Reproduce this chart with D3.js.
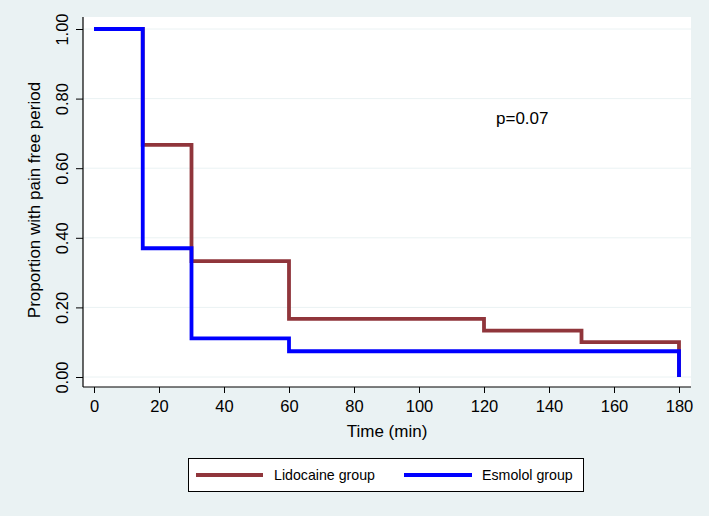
<!DOCTYPE html>
<html>
<head>
<meta charset="utf-8">
<script src="https://cdn.jsdelivr.net/npm/d3@7"></script>
<style>
  html, body { margin: 0; padding: 0; background: #eaf2f3; }
  svg { display: block; font-family: "Liberation Sans", Arial, Helvetica, sans-serif; }
</style>
</head>
<body>
<svg id="chart" width="709" height="516"></svg>
<script>
// ---- data ----
const lidoTimes = [0, 15, 30, 60, 120, 150, 180, 180];
const lidoSurv  = [1.00, 0.667, 0.333, 0.167, 0.133, 0.100, 0.100, 0.0];
const esmoTimes = [0, 15, 30, 60, 180, 180];
const esmoSurv  = [1.00, 0.370, 0.111, 0.074, 0.074, 0.0];
const xTicks = [0, 20, 40, 60, 80, 100, 120, 140, 160, 180];
const yTicks = [0, 0.2, 0.4, 0.6, 0.8, 1.0];
const seriesNames = ["Lidocaine group", "Esmolol group"];
const seriesColors = ["#90353b", "#0000ff"];
const pText = "p=0.07";

// ---- layout ----
const svg = d3.select("#chart");
const W = 709, H = 516;
svg.append("rect").attr("width", W).attr("height", H).attr("fill", "#eaf2f3");

const plot = { left: 83, right: 691, top: 17, bottom: 387 };
svg.append("rect")
  .attr("x", plot.left).attr("y", plot.top)
  .attr("width", plot.right - plot.left).attr("height", plot.bottom - plot.top)
  .attr("fill", "#ffffff");

const x = d3.scaleLinear().domain([0, 180]).range([94, 679]);
const y = d3.scaleLinear().domain([0, 1]).range([377, 29]);

// gridlines
svg.append("g").selectAll("line").data(yTicks).join("line")
  .attr("x1", plot.left).attr("x2", plot.right)
  .attr("y1", d => y(d)).attr("y2", d => y(d))
  .attr("stroke", "#eaf2f3").attr("stroke-width", 1);

// axes
const yAxis = d3.axisLeft(y).tickValues(yTicks).tickFormat(d3.format(".2f")).tickSize(7).tickSizeOuter(0);
const gy = svg.append("g").attr("transform", `translate(${plot.left},0)`).call(yAxis);
gy.select(".domain").remove();
gy.selectAll(".tick line").attr("stroke", "#000");
gy.selectAll(".tick text")
  .attr("font-size", 16.5).attr("fill", "#000")
  .attr("transform", "rotate(-90)")
  .attr("text-anchor", "middle")
  .attr("x", function() { return -d3.select(this.parentNode).datum() ? 0 : 0; })
  .attr("dy", null);
gy.selectAll(".tick").each(function(d) {
  const t = d3.select(this).select("text");
  t.attr("x", 0).attr("y", -15).attr("dy", "0");
});
svg.append("line").attr("x1", plot.left).attr("x2", plot.left)
  .attr("y1", plot.top).attr("y2", plot.bottom).attr("stroke", "#000").attr("stroke-width", 1.2);

const xAxis = d3.axisBottom(x).tickValues(xTicks).tickFormat(d3.format("d")).tickSize(6).tickSizeOuter(0);
const gx = svg.append("g").attr("transform", `translate(0,${plot.bottom})`).call(xAxis);
gx.select(".domain").remove();
gx.selectAll(".tick line").attr("stroke", "#000");
gx.selectAll(".tick text").attr("font-size", 16.5).attr("fill", "#000").attr("y", 25).attr("dy", "0");
svg.append("line").attr("x1", plot.left).attr("x2", plot.right)
  .attr("y1", plot.bottom).attr("y2", plot.bottom).attr("stroke", "#000").attr("stroke-width", 1.2);

// axis titles
svg.append("text").attr("transform", `translate(40,200) rotate(-90)`)
  .attr("text-anchor", "middle").attr("font-size", 17).attr("fill", "#000")
  .text("Proportion with pain free period");
svg.append("text").attr("x", 387).attr("y", 437)
  .attr("text-anchor", "middle").attr("font-size", 17).attr("fill", "#000")
  .text("Time (min)");

// lines
const line = d3.line().x(d => x(d[0])).y(d => y(d[1])).curve(d3.curveStepAfter);
const lidoData = lidoTimes.map((t, i) => [t, lidoSurv[i]]);
const esmoData = esmoTimes.map((t, i) => [t, esmoSurv[i]]);
[lidoData, esmoData].forEach((data, i) => {
  svg.append("path").attr("d", line(data))
    .attr("fill", "none").attr("stroke", seriesColors[i])
    .attr("stroke-width", 3.8).attr("stroke-linejoin", "miter");
});

// p-value
svg.append("text").attr("x", 496).attr("y", 124).attr("font-size", 17).attr("fill", "#000").text(pText);

// legend
const lg = svg.append("g");
lg.append("rect").attr("x", 188.5).attr("y", 458.5).attr("width", 395).attr("height", 33)
  .attr("fill", "#fff").attr("stroke", "#000").attr("stroke-width", 1);
const legendItems = [
  { x1: 196, x2: 263, tx: 274 },
  { x1: 404, x2: 472, tx: 482 }
];
legendItems.forEach((it, i) => {
  lg.append("line").attr("x1", it.x1).attr("x2", it.x2).attr("y1", 475).attr("y2", 475)
    .attr("stroke", seriesColors[i]).attr("stroke-width", 3.8);
  lg.append("text").attr("x", it.tx).attr("y", 480).attr("font-size", 14.2).attr("fill", "#000")
    .text(seriesNames[i]);
});
</script>
</body>
</html>
